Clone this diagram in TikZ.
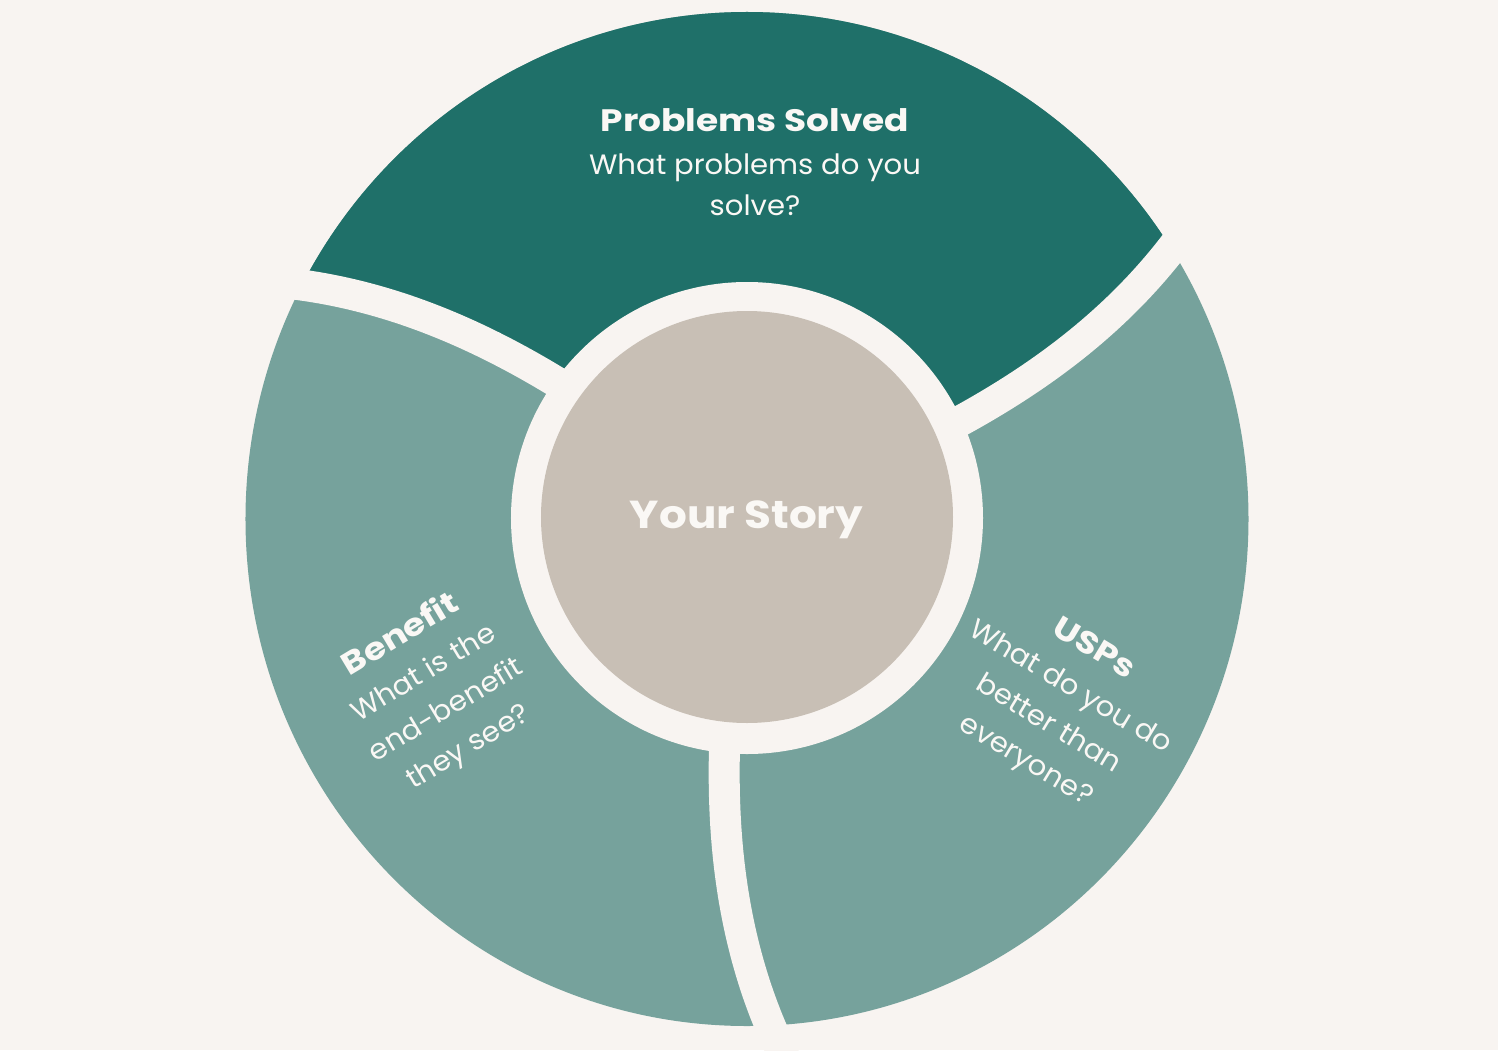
\documentclass[tikz,border=0pt]{standalone}
\usepackage{fontspec}
\setmainfont{Poppins}
\newfontfamily\titlefont{Poppins}[FakeStretch=1.16]
\newfontfamily\bodyfont{Poppins}[FakeStretch=1.04]
\newfontfamily\centerfont{Poppins}[FakeStretch=1.12]
\definecolor{bg}{HTML}{F8F4F1}
\definecolor{darkteal}{HTML}{1F7069}
\definecolor{lightteal}{HTML}{76A29C}
\definecolor{taupe}{HTML}{C8BFB5}
\definecolor{txtc}{HTML}{FAF8F5}
\tikzset{
  txt/.style={text=txtc, inner sep=0pt, anchor=base},
  titletxt/.style={txt, font=\titlefont\bfseries\fontsize{31}{34}\selectfont},
  bodytxt/.style={txt, font=\bodyfont\fontsize{28}{32}\selectfont},
  centertxt/.style={txt, font=\centerfont\bfseries\fontsize{39}{44}\selectfont},
  gapline/.style={draw=bg, line width=31pt}
}
\begin{document}
\begin{tikzpicture}[x=1pt,y=1pt]
\useasboundingbox (-747,-532) rectangle (751,518);
\fill[bg] (-747,-532) rectangle (751,518);
% segments
\begin{scope}
  \clip (0,-1) ellipse [x radius=501.5, y radius=507];
  \fill[lightteal] (-600,-600) rectangle (600,600);
  \fill[darkteal]
    plot[domain=215:560,samples=50,variable=\rr] ({24.5+0.0184*(\rr-236)+0.419*((\rr-236)/100)*((\rr-236)/100)}:{\rr})
    -- (60:900) -- (120:900) --
    plot[domain=560:215,samples=50,variable=\rr] ({144.5+0.0184*(\rr-236)+0.419*((\rr-236)/100)*((\rr-236)/100)}:{\rr})
    -- cycle;
\end{scope}
% gaps
\draw[gapline] plot[domain=215:560,samples=50,variable=\rr] ({24.5+0.0184*(\rr-236)+0.419*((\rr-236)/100)*((\rr-236)/100)}:{\rr});
\draw[gapline] plot[domain=215:560,samples=50,variable=\rr] ({144.5+0.0184*(\rr-236)+0.419*((\rr-236)/100)*((\rr-236)/100)}:{\rr});
\draw[gapline] plot[domain=215:560,samples=50,variable=\rr] ({-95.5+0.0184*(\rr-236)+0.419*((\rr-236)/100)*((\rr-236)/100)}:{\rr});
% ring and centre
\fill[bg] (0,0) circle [radius=236];
\fill[taupe] (0,1) circle [radius=206];
% texts
\node[titletxt] (ps) at (8,386) {Problems Solved};
\node[bodytxt] (ps1) at (8,343) {What problems do you};
\node[bodytxt] (ps2) at (8,302) {solve?};
\node[centertxt] (ys) at (-0.5,-10) {Your Story};
\begin{scope}[shift={(-341.4,-124.7)}, rotate=31, transform shape]
  \node[titletxt] (bt) at (0,0) {Benefit};
  \node[bodytxt] (b1) at (0,-44) {What is the};
  \node[bodytxt] (b2) at (0,-87) {end-benefit};
  \node[bodytxt] (b3) at (0,-130) {they see?};
\end{scope}
\begin{scope}[shift={(341.9,-138.2)}, rotate=-31, transform shape]
  \node[titletxt] (ut) at (0,0) {USPs};
  \node[bodytxt] (u1) at (0,-44) {What do you do};
  \node[bodytxt] (u2) at (0,-87) {better than};
  \node[bodytxt] (u3) at (0,-130) {everyone?};
\end{scope}
\end{tikzpicture}
\end{document}
